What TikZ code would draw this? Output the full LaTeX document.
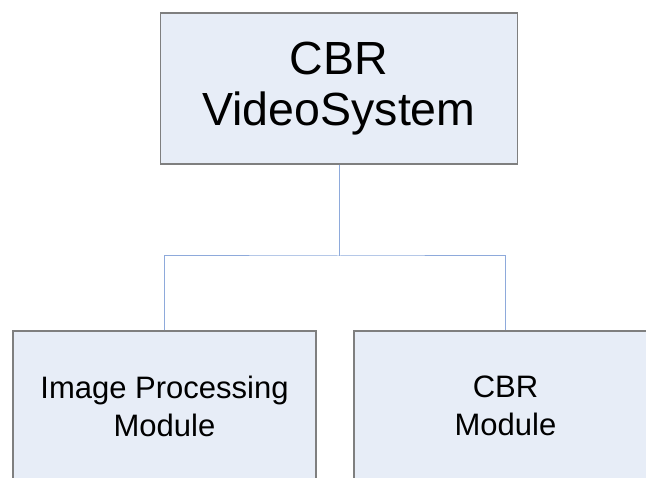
\documentclass[tikz,border=0pt]{standalone}
\usepackage{fontspec}
\setmainfont{Liberation Sans}
\definecolor{boxfill}{HTML}{E7EDF7}
\definecolor{boxline}{HTML}{7F7F7F}
\definecolor{connline}{HTML}{8EAADB}
\begin{document}
\begin{tikzpicture}[x=1pt,y=-1pt,
  box/.style={draw=boxline,fill=boxfill,line width=1.1pt,align=center,inner sep=0pt},
  conn/.style={draw=connline,line width=1pt}]
\useasboundingbox (0,0) rectangle (646,478);
\clip (0,0) rectangle (646,478);
\node[box,minimum width=357pt,minimum height=151pt,font=\fontsize{46.5}{51}\selectfont] (top) at (339,88.5) {CBR\\VideoSystem};
\node[box,minimum width=303pt,minimum height=150pt,font=\fontsize{31}{38}\selectfont] (left) at (164.5,406) {Image Processing\\Module};
\node[box,minimum width=303pt,minimum height=150pt,font=\fontsize{31}{38}\selectfont] (right) at (505.5,406) {CBR\\Module};
\coordinate (bus) at (339,256);
\draw[conn] (top.south) -- (bus);
\draw[conn] (left.north) |- (bus) -| (right.north);
\end{tikzpicture}
\end{document}
